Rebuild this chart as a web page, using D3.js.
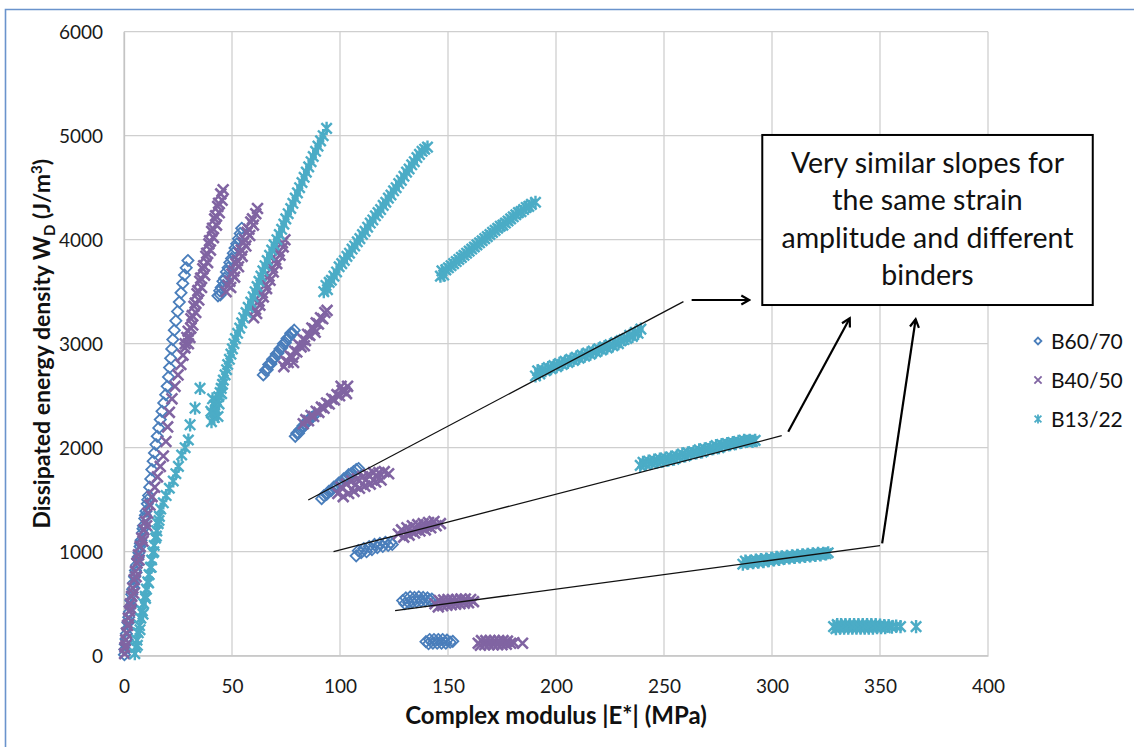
<!DOCTYPE html>
<html>
<head>
<meta charset="utf-8">
<script src="https://cdn.jsdelivr.net/npm/d3@7"></script>
<style>
  body { margin: 0; background: #fff; }
  svg { display: block; font-family: Lato, "Open Sans", sans-serif; }
</style>
</head>
<body>
<div id="chart"></div>
<script>
// series names and colours
const seriesNames = ['B60/70', 'B40/50', 'B13/22'];
const seriesColors = ['#4a7ebb', '#8064a2', '#4bacc6'];

const xTicks = [0, 50, 100, 150, 200, 250, 300, 350, 400];
const yTicks = [0, 1000, 2000, 3000, 4000, 5000, 6000];

// B60/70 points [|E*| MPa, W_D J/m3]
const b6070 = [
  [0.2,10],[0.4,60],[0.6,110],[0.9,160],[1.1,210],[1.5,260],[1.8,320],[2.2,370],[2.5,420],[2.9,470],
  [3.2,530],[3.6,590],[4.0,640],[4.4,700],[4.9,760],[5.3,820],[5.8,870],[6.3,930],[6.9,990],[7.4,1050],
  [7.9,1110],[8.5,1180],[9.0,1250],[9.6,1320],[10.2,1390],[10.8,1460],[11.4,1540],[11.9,1620],[12.4,1700],
  [12.9,1790],[13.5,1870],[14.1,1950],[14.8,2030],[15.4,2110],[16.1,2190],[16.8,2270],[17.6,2350],[18.4,2430],
  [19.3,2510],[20.0,2590],[20.6,2680],[21.1,2770],[21.6,2860],[22.1,2950],[22.6,3040],[23.3,3130],[24.0,3220],
  [24.8,3310],[25.6,3400],[26.4,3490],[27.2,3580],[28.0,3660],[28.8,3730],[29.6,3800],
  [1.5,150],[2.6,330],[3.4,480],[4.6,650],[5.6,800],[6.6,950],[7.6,1080],[8.8,1220],[9.9,1350],[11.0,1500],
  [43.5,3460],[44.3,3510],[45.0,3540],[45.8,3600],[46.6,3630],[47.4,3690],[48.2,3730],[49.0,3780],[49.8,3820],
  [50.6,3870],[51.4,3920],[52.2,3960],[53.0,4010],[53.8,4060],[54.5,4110],[44.6,3470],[46.0,3560],
  [64.5,2700],[65.5,2745],[66.3,2750],[67.0,2800],[68.0,2805],[68.8,2850],[69.6,2860],[70.5,2900],[71.3,2910],
  [72.2,2950],[73.0,2960],[73.8,3000],[74.7,3010],[75.5,3050],[76.3,3060],[77.2,3100],[78.0,3100],[78.8,3130],
  [79.3,2110],[80.0,2140],[80.8,2140],[81.4,2170],[82.2,2180],[82.9,2210],[83.7,2220],[84.4,2250],[85.2,2260],
  [86.0,2280],[86.8,2290],[87.6,2300],
  [91.5,1510],[92.6,1540],[93.8,1550],[94.8,1580],[96.0,1590],[97.1,1620],[98.3,1630],[99.4,1660],[100.6,1670],
  [101.7,1700],[102.9,1710],[104.0,1740],[105.2,1750],[106.3,1770],[107.5,1790],[108.6,1800],
  [107.5,960],[108.5,1010],[109.8,990],[111.0,1030],[112.3,1000],[113.5,1050],[114.8,1020],[116.0,1070],
  [117.3,1040],[118.5,1080],[119.8,1050],[121.0,1090],[122.3,1060],[123.5,1090],[124.2,1070],
  [129.0,530],[130.0,500],[130.5,555],[131.8,510],[132.5,565],[133.5,515],[134.5,560],[135.5,520],[136.5,565],
  [137.5,525],[138.5,560],[139.5,530],[140.5,555],[141.5,535],[142.5,545],
  [139.8,135],[141.0,115],[141.5,155],[143.0,120],[143.5,155],[145.0,120],[145.5,155],[147.0,120],[147.5,155],
  [149.0,120],[149.5,150],[151.0,130],[152.2,138]
];

// B40/50 points
const b4050 = [
  [0.3,20],[0.5,80],[0.8,150],[1.2,220],[1.6,290],[2.0,360],[2.5,430],[3.0,500],[3.5,570],[4.1,650],
  [4.7,730],[5.3,810],[6.0,890],[6.7,970],[7.5,1050],[8.3,1130],[9.2,1210],[10.1,1290],[11.0,1370],[12.0,1450],
  [13.0,1530],[14.2,1620],[15.5,1720],[16.8,1820],[18.2,1920],[19.4,2060],[20.2,2200],[21.0,2340],[22.2,2470],
  [23.6,2590],[25.0,2700],[26.3,2800],[27.3,2890],[28.2,2960],
  [1.0,100],[2.2,300],[3.3,450],[4.4,600],[5.6,760],[7.0,920],[8.8,1100],[10.5,1250],
  [28.3,3000],[29.8,3000],[30.5,3060],[29.7,3120],[31.8,3180],[31.0,3240],[33.2,3300],[32.4,3360],[34.6,3420],
  [33.8,3480],[35.9,3540],[35.1,3600],[37.3,3660],[36.5,3720],[38.7,3780],[37.9,3840],[40.0,3900],[39.3,3960],
  [41.4,4020],[40.6,4080],[42.8,4140],[42.0,4200],[44.1,4260],[43.4,4320],[45.4,4380],[44.8,4440],[45.9,4480],
  [29.1,3060],[30.9,3150],[31.6,3270],[33.0,3390],[34.2,3510],[35.5,3630],[36.9,3750],[38.3,3870],[39.6,3990],
  [41.0,4110],[42.4,4230],[43.8,4350],
  [47.3,3500],[49.4,3540],[49.0,3600],[51.2,3640],[50.8,3700],[53.0,3740],[52.5,3800],[54.7,3840],[54.3,3900],
  [56.4,3940],[56.0,4000],[58.2,4040],[57.8,4100],[59.9,4140],[59.5,4200],[61.0,4250],[61.8,4300],
  [48.2,3560],[50.0,3670],[51.9,3770],[53.6,3870],[55.3,3970],[57.0,4070],[58.7,4170],
  [60.0,3250],[61.4,3290],[60.9,3330],[62.9,3370],[62.5,3410],[64.5,3450],[64.0,3490],[66.0,3530],[65.6,3570],
  [67.6,3610],[67.1,3650],[69.1,3690],[68.7,3730],[70.7,3770],[70.2,3810],[72.2,3850],[71.8,3890],[73.7,3930],
  [73.3,3970],[74.5,4000],
  [74.0,2780],[75.0,2830],[76.0,2820],[77.0,2880],[78.0,2870],[79.0,2930],[80.0,2920],[81.0,2990],[82.0,2970],
  [83.0,3040],[84.0,3030],[85.0,3090],[86.0,3080],[87.0,3150],[88.0,3140],[89.0,3200],[90.0,3190],[91.0,3250],
  [92.0,3240],[93.0,3300],[94.0,3320],[78.5,2820],[83.5,2980],[88.5,3110],
  [83.0,2230],[84.2,2270],[85.4,2260],[86.6,2310],[87.8,2300],[89.0,2350],[90.2,2340],[91.4,2390],[92.6,2380],
  [93.8,2430],[95.0,2420],[96.2,2470],[97.4,2460],[98.6,2510],[99.8,2500],[101.0,2550],[102.2,2540],[103.5,2590],
  [100.5,2590],[103.0,2520],
  [99.0,1560],[100.5,1620],[101.5,1530],[103.0,1650],[104.0,1560],[105.5,1680],[106.5,1580],[108.0,1700],
  [109.0,1610],[110.5,1720],[111.5,1630],[113.0,1740],[114.0,1650],[115.5,1760],[116.5,1670],[118.0,1760],
  [119.0,1690],[120.5,1770],[122.5,1750],[107.0,1640],[112.0,1690],[117.0,1720],
  [127.0,1170],[128.5,1210],[129.5,1140],[131.0,1230],[132.0,1160],[133.5,1250],[134.5,1180],[136.0,1260],
  [137.0,1200],[138.5,1270],[139.5,1210],[141.0,1280],[142.0,1230],[143.5,1290],[144.5,1250],[146.5,1270],
  [135.0,1220],[140.0,1245],
  [144.0,500],[145.5,470],[146.0,530],[147.5,480],[148.0,535],[149.5,485],[150.0,540],[151.5,490],[152.0,540],
  [153.5,495],[154.0,540],[155.5,500],[156.0,545],[157.5,505],[158.0,545],[159.5,510],[160.5,540],[161.8,520],
  [164.0,120],[165.0,100],[165.5,145],[167.0,105],[167.5,145],[169.0,105],[169.5,145],[171.0,105],[171.5,145],
  [173.0,105],[173.5,145],[175.0,105],[175.5,145],[177.0,110],[177.5,140],[179.0,120],[180.5,125],[184.5,120]
];

// B13/22 points
const b1322 = [
  [5.0,20],[5.5,80],[6.0,150],[6.6,220],[7.2,290],[7.8,360],[8.5,430],[9.1,500],[9.8,570],[10.4,640],
  [11.0,710],[11.6,780],[12.2,850],[12.8,920],[13.4,990],[14.0,1060],[14.6,1130],[15.2,1200],[15.8,1270],
  [16.4,1340],[17.0,1410],[18.2,1470],[19.5,1540],[21.0,1610],[22.8,1680],[24.0,1750],[25.2,1820],[26.7,1930],
  [28.3,2000],[29.8,2074],[30.6,2220],[32.9,2380],[35.2,2570],
  [6.2,100],[7.4,250],[8.8,400],[10.0,550],[11.4,700],[12.6,850],[13.8,1000],[15.0,1150],[16.2,1300],
  [40.5,2250],[41.8,2290],[40.8,2330],[42.6,2370],[41.9,2410],[42.8,2450],[43.8,2490],[44.5,2530],[45.0,2570],
  [45.6,2610],[46.0,2650],[46.8,2700],[47.5,2750],[48.0,2800],[48.8,2850],[49.5,2900],[50.2,2950],[50.9,3000],
  [51.6,3050],[52.6,3100],[53.6,3150],[54.5,3200],[55.4,3250],[56.5,3300],[57.5,3350],[58.7,3400],[59.8,3450],
  [60.7,3500],[61.6,3550],[62.5,3600],[63.4,3650],[64.3,3700],[65.3,3750],[66.3,3800],[67.4,3850],[68.4,3900],
  [69.5,3950],[70.8,4000],[71.9,4050],[73.0,4100],[74.0,4150],[74.9,4200],[76.0,4250],[77.2,4300],[78.2,4350],
  [79.3,4400],[80.3,4450],[81.3,4500],[82.4,4550],[83.4,4600],[84.4,4650],[85.5,4700],[86.6,4750],[87.6,4800],
  [88.7,4850],[89.8,4900],[91.0,4950],[92.2,5000],[93.8,5070],
  [43.5,2300],[40.2,2350],[44.0,2420],[41.0,2470],[45.2,2520],
  [92.5,3500],[93.5,3560],[94.2,3520],[95.0,3590],[96.0,3610],[97.2,3650],[98.4,3690],[99.6,3740],[100.8,3770],
  [102.0,3800],[103.2,3840],[104.4,3870],[105.6,3910],[106.8,3940],[108.0,3980],[109.2,4010],[110.4,4050],
  [111.6,4080],[112.8,4120],[114.0,4160],[115.2,4190],[116.4,4230],[117.6,4260],[118.8,4290],[120.0,4330],
  [121.2,4360],[122.4,4400],[123.6,4430],[124.8,4470],[126.0,4500],[127.2,4540],[128.4,4570],[129.6,4610],
  [130.8,4650],[132.0,4680],[133.2,4720],[134.4,4750],[135.6,4790],[136.8,4820],[138.0,4850],[139.2,4870],
  [140.5,4890],
  [146.5,3650],[147.2,3700],[148.0,3660],[149.0,3710],[150.2,3730],[151.4,3750],[152.6,3770],[153.8,3790],
  [155.0,3810],[156.2,3830],[157.4,3850],[158.6,3870],[159.8,3890],[161.0,3910],[162.2,3930],[163.4,3950],
  [164.6,3970],[165.8,3990],[167.0,4010],[168.2,4030],[169.4,4050],[170.6,4070],[171.8,4090],[173.0,4110],
  [174.2,4130],[175.4,4140],[176.6,4160],[177.8,4180],[179.0,4200],[180.2,4220],[181.4,4240],[182.6,4260],
  [183.8,4270],[185.0,4290],[186.2,4310],[187.4,4320],[188.6,4340],[190.5,4360],
  [190.5,2690],[191.5,2740],[192.5,2710],[193.8,2750],[195.1,2740],[196.4,2770],[197.7,2760],[199.0,2790],
  [200.3,2780],[201.6,2810],[202.9,2800],[204.2,2830],[205.5,2820],[206.8,2850],[208.1,2840],[209.4,2870],
  [210.7,2860],[212.0,2890],[213.3,2880],[214.6,2910],[215.9,2900],[217.2,2930],[218.5,2920],[219.8,2950],
  [221.1,2940],[222.4,2970],[223.7,2960],[225.0,2990],[226.3,2980],[227.6,3010],[228.9,3000],[230.2,3030],
  [231.5,3040],[232.8,3050],[234.1,3080],[235.4,3070],[236.7,3110],[238.0,3100],[239.3,3140],
  [239.0,1830],[240.3,1860],[241.6,1840],[242.9,1870],[244.2,1850],[245.5,1880],[246.8,1860],[248.1,1890],
  [249.4,1870],[250.7,1900],[252.0,1880],[253.3,1910],[254.6,1890],[255.9,1920],[257.2,1910],[258.5,1940],
  [259.8,1920],[261.1,1950],[262.4,1940],[263.7,1960],[265.0,1950],[266.3,1980],[267.6,1960],[268.9,1990],
  [270.2,1980],[271.5,2000],[272.8,1990],[274.1,2020],[275.4,2000],[276.7,2030],[278.0,2020],[279.3,2040],
  [280.6,2030],[281.9,2050],[283.2,2040],[284.5,2060],[285.8,2050],[287.1,2070],[288.4,2060],[289.7,2070],
  [291.0,2060],[292.2,2070],
  [286.5,880],[287.7,910],[288.9,890],[290.1,910],[291.3,895],[292.5,920],[293.7,900],[294.9,925],[296.1,905],
  [297.3,930],[298.5,915],[299.7,935],[300.9,920],[302.1,945],[303.3,925],[304.5,950],[305.7,935],[306.9,955],
  [308.1,940],[309.3,960],[310.5,945],[311.7,965],[312.9,950],[314.1,970],[315.3,955],[316.5,975],[317.7,960],
  [318.9,980],[320.1,965],[321.3,985],[322.5,970],[323.7,985],[325.0,980],[326.0,990],
  [328.5,280],[329.6,260],[330.2,300],[331.5,265],[332.0,300],[333.4,265],[334.0,300],[335.3,265],[336.0,300],
  [337.2,265],[338.0,300],[339.1,265],[340.0,300],[341.0,265],[342.0,300],[342.9,265],[344.0,300],[344.8,265],
  [346.0,300],[346.7,265],[348.0,300],[348.6,270],[350.0,295],[350.5,270],[352.0,290],[352.4,270],[354.0,290],
  [355.5,275],[357.5,285],[359.5,280],[366.7,280]
];

// hand-drawn trend lines and arrows (data units)
const trendLines = [
  [[85.3, 1497], [259, 3404]],
  [[97, 1000], [304.5, 2115]],
  [[125.5, 433], [350, 1058]]
];
const arrows = [
  [[262.8, 3420], [289.5, 3420]],
  [[307.5, 2154], [336, 3244]],
  [[351, 1080], [366.5, 3235]]
];
const noteLines = ['Very similar slopes for', 'the same strain', 'amplitude and different', 'binders'];
const noteBox = { x0: 295.5, x1: 448.5, y0: 5007, y1: 3372 };

const width = 1134, height = 747;
const marginLeft = 124, marginTop = 31.7;
const innerWidth = 864, innerHeight = 624;

const svg = d3.select('#chart')
  .append('svg')
  .attr('width', width)
  .attr('height', height);

// outer chart frame (left and top edges only visible)
svg.append('path')
  .attr('d', `M5.5,${height}V9.5H${width}`)
  .attr('fill', 'none')
  .attr('stroke', '#6a93cc')
  .attr('stroke-width', 1.6);

const g = svg.append('g')
  .attr('transform', `translate(${marginLeft},${marginTop})`);

const x = d3.scaleLinear().domain([0, 400]).range([0, innerWidth]);
const y = d3.scaleLinear().domain([0, 6000]).range([innerHeight, 0]);

// gridlines
g.append('g')
  .selectAll('line')
  .data(yTicks)
  .join('line')
  .attr('x1', 0).attr('x2', innerWidth)
  .attr('y1', d => y(d)).attr('y2', d => y(d))
  .attr('stroke', '#cfcfcf')
  .attr('stroke-width', 1.3);

g.append('g')
  .selectAll('line')
  .data(xTicks)
  .join('line')
  .attr('y1', 0).attr('y2', innerHeight)
  .attr('x1', d => x(d)).attr('x2', d => x(d))
  .attr('stroke', '#cfcfcf')
  .attr('stroke-width', 1.3);

// axes (labels only, Excel style)
const xAxis = g.append('g')
  .attr('transform', `translate(0,${innerHeight})`)
  .call(d3.axisBottom(x).tickValues(xTicks).tickFormat(d3.format('d')).tickSize(0).tickPadding(24));
const yAxis = g.append('g')
  .call(d3.axisLeft(y).tickValues(yTicks).tickFormat(d3.format('d')).tickSize(0).tickPadding(21));
[xAxis, yAxis].forEach(a => {
  a.attr('font-family', null).attr('font-size', null);
  a.select('.domain').attr('stroke', '#c4c4c4').attr('stroke-width', 1.3);
  a.selectAll('text')
    .attr('font-size', 19)
    .attr('fill', '#1a1a1a');
});
yAxis.selectAll('text').attr('dy', '0.36em');

// marker shapes
const markerPaths = [
  'M0,-5.6L5.6,0L0,5.6L-5.6,0Z',
  'M-5.4,-5.4L5.4,5.4M-5.4,5.4L5.4,-5.4',
  'M-5.2,-5.2L5.2,5.2M-5.2,5.2L5.2,-5.2M0,-6.6L0,6.6'
];
const markerWidths = [1.8, 2.6, 2.4];
const allSeries = [b6070, b4050, b1322];

allSeries.forEach((pts, i) => {
  g.append('g')
    .selectAll('path')
    .data(pts)
    .join('path')
    .attr('transform', d => `translate(${x(d[0])},${y(d[1])})`)
    .attr('d', markerPaths[i])
    .attr('fill', 'none')
    .attr('stroke', seriesColors[i])
    .attr('stroke-width', markerWidths[i]);
});

// trend lines
const line = d3.line().x(d => x(d[0])).y(d => y(d[1]));
g.append('g')
  .selectAll('path')
  .data(trendLines)
  .join('path')
  .attr('d', line)
  .attr('fill', 'none')
  .attr('stroke', '#111')
  .attr('stroke-width', 1.3);

// arrows
svg.append('defs').append('marker')
  .attr('id', 'arrowHead')
  .attr('viewBox', '0 0 12 12')
  .attr('refX', 10).attr('refY', 6)
  .attr('markerWidth', 12).attr('markerHeight', 12)
  .attr('markerUnits', 'userSpaceOnUse')
  .attr('orient', 'auto')
  .append('path')
  .attr('d', 'M2,1.5L10,6L2,10.5')
  .attr('fill', 'none')
  .attr('stroke', '#000')
  .attr('stroke-width', 2.2);

g.append('g')
  .selectAll('path')
  .data(arrows)
  .join('path')
  .attr('d', line)
  .attr('fill', 'none')
  .attr('stroke', '#000')
  .attr('stroke-width', 2.2)
  .attr('marker-end', 'url(#arrowHead)');

// note box
const bx = x(noteBox.x0), by = y(noteBox.y0);
const bw = x(noteBox.x1) - bx, bh = y(noteBox.y1) - by;
g.append('rect')
  .attr('x', bx).attr('y', by)
  .attr('width', bw).attr('height', bh)
  .attr('fill', '#fff')
  .attr('stroke', '#000')
  .attr('stroke-width', 2);

g.append('g')
  .selectAll('text')
  .data(noteLines)
  .join('text')
  .attr('x', bx + bw / 2)
  .attr('y', (d, i) => by + 38 + i * 37.3)
  .attr('text-anchor', 'middle')
  .attr('font-size', 28.5)
  .attr('fill', '#111')
  .text(d => d);

// axis titles
svg.append('text')
  .attr('x', marginLeft + innerWidth / 2)
  .attr('y', 724)
  .attr('text-anchor', 'middle')
  .attr('font-weight', 'bold')
  .attr('font-size', 24)
  .attr('fill', '#111')
  .text('Complex modulus |E*| (MPa)');

const yTitle = svg.append('text')
  .attr('transform', `translate(50,${marginTop + innerHeight / 2}) rotate(-90)`)
  .attr('text-anchor', 'middle')
  .attr('font-weight', 'bold')
  .attr('font-size', 23)
  .attr('fill', '#111');
yTitle.append('tspan').text('Dissipated energy density W');
yTitle.append('tspan').attr('font-size', 15).attr('dy', 5).text('D');
yTitle.append('tspan').attr('dy', -5).text(' (J/m');
yTitle.append('tspan').attr('font-size', 15).attr('dy', -8).text('3');
yTitle.append('tspan').attr('dy', 8).text(')');

// legend
const legend = svg.append('g').attr('transform', 'translate(1038,341)');
const legendPaths = [
  'M0,-3.4L3.4,0L0,3.4L-3.4,0Z',
  'M-3.6,-3.6L3.6,3.6M-3.6,3.6L3.6,-3.6',
  'M-3.4,-3.4L3.4,3.4M-3.4,3.4L3.4,-3.4M0,-4.4L0,4.4'
];
seriesNames.forEach((name, i) => {
  const row = legend.append('g').attr('transform', `translate(0,${i * 39})`);
  row.append('path')
    .attr('d', legendPaths[i])
    .attr('fill', 'none')
    .attr('stroke', seriesColors[i])
    .attr('stroke-width', 1.8);
  row.append('text')
    .attr('x', 13)
    .attr('dy', '0.36em')
    .attr('font-size', 21)
    .attr('fill', '#111')
    .text(name);
});
</script>
</body>
</html>
